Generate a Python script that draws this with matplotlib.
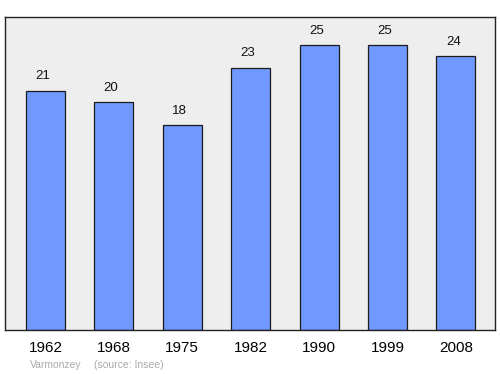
import matplotlib
matplotlib.use("Agg")
import matplotlib.pyplot as plt

years = ["1962", "1968", "1975", "1982", "1990", "1999", "2008"]
population = [21, 20, 18, 23, 25, 25, 24]
commune = "Varmonzey"
source = "(source: Insee)"

plt.rcParams['font.family'] = ['Liberation Sans', 'DejaVu Sans']

fig = plt.figure(figsize=(5, 3.74), dpi=100)
ax = fig.add_axes([0.01, (374 - 330) / 374, 0.98, (330 - 17) / 374])
ax.set_facecolor("#eeeeee")
x = list(range(len(years)))
ax.bar(x, population, width=0.57, color="#7099ff", edgecolor="#1a1a1a", linewidth=0.9, zorder=2)
for xi, v in zip(x, population):
    ax.text(xi - 0.04, v + 1.25, str(v), ha="center", va="center", fontsize=9.5, color="#111111")
ax.set_xlim(-0.59, 6.57)
ax.set_ylim(0, 27.45)
ax.set_xticks(x)
ax.set_xticklabels(years, fontsize=11)
ax.tick_params(axis="x", length=0, pad=8)
ax.set_yticks([])
for s in ax.spines.values():
    s.set_linewidth(1.0)
    s.set_color("#222222")
fig.text(30 / 500, 1 - 365.5 / 374, commune, fontsize=7.5, color="#aaaaaa", ha="left", va="center")
fig.text(94 / 500, 1 - 365.5 / 374, source, fontsize=7.5, color="#aaaaaa", ha="left", va="center")
fig.savefig("out.png", dpi=100)
